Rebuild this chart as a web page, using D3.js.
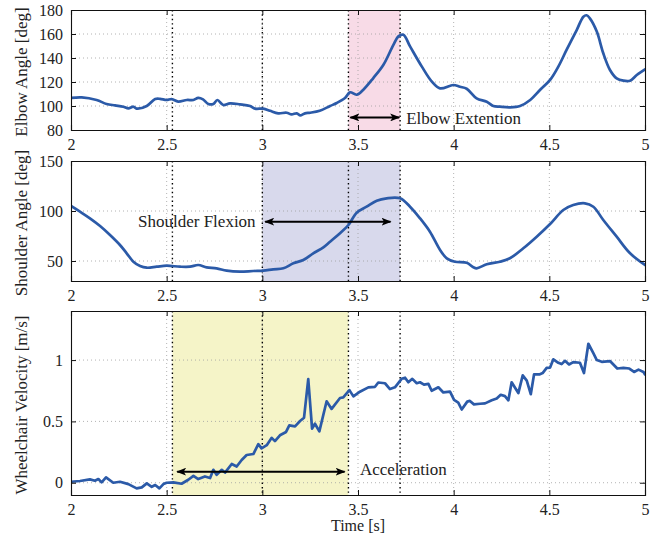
<!DOCTYPE html>
<html><head><meta charset="utf-8">
<script src="https://cdn.jsdelivr.net/npm/d3@7"></script>
<style>body{margin:0;background:#fff}svg{display:block}text{font-family:"Liberation Serif","Times New Roman",serif;fill:#222}</style>
</head><body><svg id="c" width="658" height="540"></svg>
<script>
const xTicks = [2, 2.5, 3, 3.5, 4, 4.5, 5];
const eventTimes = [2.53, 3.0, 3.45, 3.72];

const elbowT = [2.0,2.056,2.134,2.186,2.23,2.273,2.30,2.326,2.343,2.396,2.44,2.465,2.5,2.526,2.56,2.605,2.64,2.665,2.69,2.718,2.744,2.765,2.796,2.831,2.883,2.936,2.962,3.005,3.04,3.083,3.127,3.153,3.18,3.197,3.223,3.25,3.30,3.354,3.389,3.432,3.458,3.493,3.528,3.58,3.633,3.685,3.711,3.737,3.772,3.833,3.885,3.929,3.998,4.033,4.068,4.12,4.173,4.207,4.242,4.294,4.347,4.4,4.451,4.504,4.547,4.59,4.643,4.678,4.695,4.712,4.748,4.782,4.817,4.852,4.887,4.922,4.957,5.0];
const elbowV = [106.7,107.2,105,101.7,100.5,99.4,98,99.4,97.8,100,105.8,106,105,105.8,103.6,105,105,106.7,105.5,101.7,101.7,105,100.8,102.2,101.4,100,97.8,97.8,96,93.9,94.4,93,93.9,92.2,93.9,94.4,96,100,102.5,106.7,111.4,109.4,113.6,123.3,134.4,151,158,159.4,149.7,133,120.5,114.7,117.5,116,114.4,106.4,103.6,100,99.4,98.9,100,105,113.3,121.7,132.8,146.7,163.3,174.4,175.6,173,162,143.9,130,123,121.1,121.1,125.8,130.5];
const elbowTicks = [80, 100, 120, 140, 160, 180];

const shoulderT = [2.0,2.047,2.099,2.152,2.204,2.256,2.291,2.326,2.361,2.396,2.448,2.5,2.57,2.622,2.665,2.709,2.761,2.814,2.883,2.953,3.005,3.057,3.11,3.162,3.214,3.266,3.319,3.354,3.406,3.45,3.493,3.545,3.598,3.65,3.72,3.772,3.824,3.876,3.929,3.964,4.007,4.068,4.103,4.12,4.173,4.242,4.294,4.364,4.434,4.504,4.573,4.625,4.686,4.73,4.782,4.852,4.922,5.0];
const shoulderV = [105,99.3,92.7,85,76,66,57.7,49.3,45,43.3,44.3,45.3,44.3,44.3,46,43.7,42.7,40.3,39.3,40,40.3,41.7,42.7,47.7,51,57.7,63.7,69.3,77.7,86,98.3,104.3,110.3,112.7,112.7,104.3,92.7,79.3,61,52.7,49.3,48.3,43.7,42.7,46.7,49.3,52.7,62.7,74.3,87,101,106,107.7,104.3,91,74.3,57.7,46];
const shoulderTicks = [50, 100, 150];

const velT = [2.0,2.047,2.099,2.125,2.143,2.16,2.183,2.221,2.256,2.3,2.343,2.37,2.396,2.422,2.44,2.462,2.483,2.5,2.535,2.578,2.613,2.64,2.665,2.7,2.727,2.744,2.761,2.788,2.805,2.84,2.866,2.892,2.918,2.953,2.979,2.996,3.023,3.049,3.066,3.092,3.124,3.141,3.171,3.197,3.218,3.24,3.26,3.275,3.298,3.336,3.362,3.406,3.423,3.455,3.476,3.51,3.554,3.589,3.606,3.641,3.667,3.693,3.728,3.746,3.763,3.784,3.807,3.824,3.845,3.868,3.885,3.92,3.946,3.981,4.002,4.024,4.042,4.071,4.085,4.106,4.138,4.164,4.199,4.225,4.246,4.268,4.286,4.303,4.338,4.361,4.382,4.403,4.42,4.448,4.465,4.486,4.504,4.521,4.547,4.564,4.582,4.603,4.625,4.66,4.681,4.704,4.73,4.748,4.774,4.817,4.855,4.887,4.918,4.943,4.966,4.992,5.0];
const velV = [0.008,0.014,0.027,0.016,0.03,0.003,0.044,0,0.008,-0.011,-0.046,-0.038,-0.005,-0.033,-0.019,-0.046,-0.011,0,0.003,-0.008,0.024,0.056,0.03,0.051,0.038,0.105,0.065,0.105,0.083,0.153,0.132,0.185,0.226,0.234,0.315,0.28,0.306,0.366,0.339,0.387,0.414,0.468,0.46,0.503,0.53,0.844,0.441,0.481,0.419,0.664,0.602,0.691,0.696,0.755,0.704,0.742,0.777,0.782,0.817,0.811,0.764,0.778,0.847,0.856,0.819,0.847,0.811,0.819,0.8,0.806,0.75,0.778,0.736,0.742,0.675,0.653,0.597,0.661,0.667,0.639,0.644,0.647,0.672,0.686,0.717,0.706,0.672,0.819,0.731,0.875,0.833,0.722,0.883,0.883,0.894,0.936,0.939,1.006,0.978,0.967,0.994,0.964,0.983,0.978,0.894,1.133,1.056,1.0,0.986,0.992,0.931,0.936,0.931,0.903,0.922,0.903,0.883];
const velTicks = [0, 0.5, 1];

const yLabels = ["Elbow Angle [deg]", "Shoulder Angle [deg]", "Wheelchair Velocity [m/s]"];
const phaseNames = ["Elbow Extention", "Shoulder Flexion", "Acceleration"];
const phaseStart = [3.45, 3.0, 2.53];
const phaseEnd = [3.72, 3.72, 3.45];

const svg = d3.select("#c");
const L = 71, R = 645;
const x = d3.scaleLinear().domain([2, 5]).range([L, R]);

const panels = [
  {t: elbowT, v: elbowV, ticks: elbowTicks, dom: [80, 180], top: 10, bot: 130, fmt: d3.format("d"),
   shade: "#f8dbe7", curve: d3.curveCatmullRom,
   arrow: {t0: 3.46, t1: 3.715, yv: 90.5}, text: {t: 3.752, yv: 85, anchor: "start"}},
  {t: shoulderT, v: shoulderV, ticks: shoulderTicks, dom: [30, 150], top: 161, bot: 281, fmt: d3.format("d"),
   shade: "#d8d9ec", curve: d3.curveCatmullRom,
   arrow: {t0: 3.015, t1: 3.67, yv: 89.3}, text: {t: 2.965, yv: 84, anchor: "end"}},
  {t: velT, v: velV, ticks: velTicks, dom: [-0.1, 1.4], top: 311, bot: 495, fmt: d => d === 0.5 ? "0.5" : d3.format("d")(d),
   shade: "#f5f4c8", curve: d3.curveLinear,
   arrow: {t0: 2.555, t1: 3.43, yv: 0.09}, text: {t: 3.51, yv: 0.065, anchor: "start"}}
];

const defs = svg.append("defs");
defs.append("marker").attr("id", "ah").attr("viewBox", "0 0 10 8").attr("refX", 9).attr("refY", 4)
  .attr("markerWidth", 10).attr("markerHeight", 8).attr("markerUnits", "userSpaceOnUse")
  .attr("orient", "auto-start-reverse")
  .append("path").attr("d", "M0,0 L10,4 L0,8 L2.5,4 Z").attr("fill", "#000");

panels.forEach((p, i) => {
  const y = d3.scaleLinear().domain(p.dom).range([p.bot, p.top]);
  const g = svg.append("g");
  const clipId = "clip" + i;
  defs.append("clipPath").attr("id", clipId).append("rect")
    .attr("x", L).attr("y", p.top).attr("width", R - L).attr("height", p.bot - p.top);

  g.append("rect").attr("x", x(phaseStart[i])).attr("y", p.top)
    .attr("width", x(phaseEnd[i]) - x(phaseStart[i])).attr("height", p.bot - p.top).attr("fill", p.shade);

  g.selectAll(".gx").data(xTicks.filter(d => d > 2 && d < 5)).join("line")
    .attr("x1", d => x(d)).attr("x2", d => x(d)).attr("y1", p.top).attr("y2", p.bot)
    .attr("stroke", "#a0a0a0").attr("stroke-width", 0.8).attr("stroke-dasharray", "1,3");
  g.selectAll(".gy").data(p.ticks.filter(d => y(d) > p.top + 1 && y(d) < p.bot - 1)).join("line")
    .attr("x1", L).attr("x2", R).attr("y1", d => y(d)).attr("y2", d => y(d))
    .attr("stroke", "#a0a0a0").attr("stroke-width", 0.8).attr("stroke-dasharray", "1,3");

  g.selectAll(".ev").data(eventTimes).join("line")
    .attr("x1", d => x(d)).attr("x2", d => x(d)).attr("y1", p.top).attr("y2", p.bot)
    .attr("stroke", "#000").attr("stroke-width", 1.4).attr("stroke-dasharray", "1.4,3");

  const line = d3.line().x(d => x(d[0])).y(d => y(d[1])).curve(p.curve);
  g.append("path").datum(d3.zip(p.t, p.v)).attr("d", line)
    .attr("clip-path", `url(#${clipId})`)
    .attr("fill", "none").attr("stroke", "#2b5aa8").attr("stroke-width", 2.7)
    .attr("stroke-linejoin", "round").attr("stroke-linecap", "round");

  const axB = d3.axisBottom(x).tickValues(xTicks).tickSize(-5).tickPadding(9).tickFormat(d3.format("~g"));
  const axT = d3.axisTop(x).tickValues(xTicks).tickSize(-5).tickFormat("");
  const axLft = d3.axisLeft(y).tickValues(p.ticks).tickSize(-5).tickPadding(8).tickFormat(p.fmt);
  const axRgt = d3.axisRight(y).tickValues(p.ticks).tickSize(-5).tickFormat("");
  const style = sel => { sel.select(".domain").attr("stroke", "#111").attr("stroke-width", 1.1);
    sel.selectAll(".tick line").attr("stroke", "#111");
    sel.selectAll("text").attr("font-family", "Liberation Serif, Times New Roman, serif").attr("font-size", 16).attr("fill", "#222"); };
  svg.append("g").attr("transform", `translate(0,${p.bot})`).call(axB).call(style);
  svg.append("g").attr("transform", `translate(0,${p.top})`).call(axT).call(style);
  svg.append("g").attr("transform", `translate(${L},0)`).call(axLft).call(style);
  svg.append("g").attr("transform", `translate(${R},0)`).call(axRgt).call(style);

  svg.append("line").attr("x1", x(p.arrow.t0)).attr("x2", x(p.arrow.t1))
    .attr("y1", y(p.arrow.yv)).attr("y2", y(p.arrow.yv))
    .attr("stroke", "#000").attr("stroke-width", 2)
    .attr("marker-start", "url(#ah)").attr("marker-end", "url(#ah)");
  svg.append("text").attr("x", x(p.text.t)).attr("y", y(p.text.yv))
    .attr("text-anchor", p.text.anchor).attr("font-size", 17).text(phaseNames[i]);

  svg.append("text").attr("transform", `translate(27,${(p.top + p.bot) / 2 + 2}) rotate(-90)`)
    .attr("text-anchor", "middle").attr("font-size", 17).text(yLabels[i]);
});

svg.append("text").attr("x", x(3.5)).attr("y", 531).attr("text-anchor", "middle")
  .attr("font-size", 16).text("Time [s]");
</script></body></html>
